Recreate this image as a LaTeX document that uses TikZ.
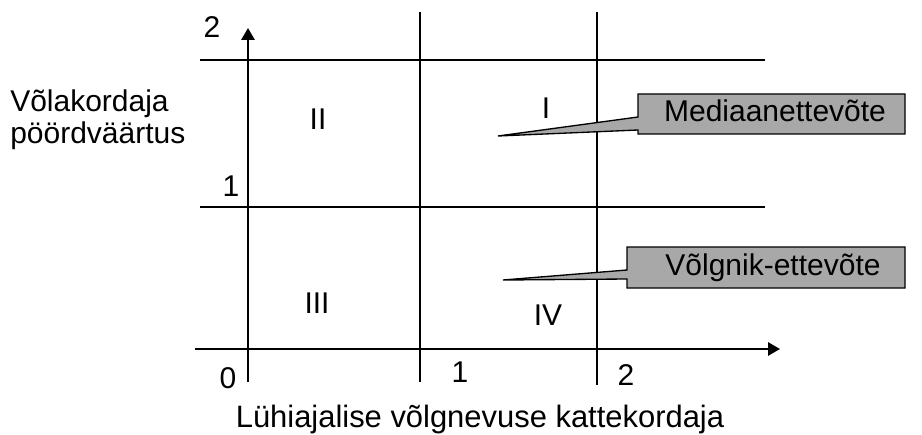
\documentclass[tikz,border=0pt]{standalone}
\usepackage{fontspec}
\setmainfont{Liberation Sans}
\usetikzlibrary{arrows.meta}
\begin{document}
\begin{tikzpicture}[x=0.75pt,y=-0.75pt,
  lbl/.style={font=\fontsize{22.5}{23}\selectfont, inner sep=0pt, anchor=base},
  axis/.style={line width=1.5pt, -{Triangle[length=9pt,width=10pt]}},
  grid/.style={line width=0.8pt},
  callout/.style={draw=black, line width=1pt, fill=black!34, line join=miter}]
\useasboundingbox (0,0) rectangle (922,435);

% grid lines
\draw[grid] (200,60) -- (765,60);
\draw[grid] (200,207) -- (765,207);
\draw[grid] (420,12) -- (420,382);
\draw[grid] (597,12) -- (597,385);

% axes
\coordinate (ybot) at (248,382);
\coordinate (ytop) at (248,28);
\coordinate (xleft) at (195,349);
\coordinate (xright) at (780,349);
\draw[axis] (ybot) -- (ytop);
\draw[axis] (xleft) -- (xright);

% tick labels
\node[lbl] (y2) at (212,38) {2};
\node[lbl] (y1) at (231,196) {1};
\node[lbl] (o) at (228,388) {0};
\node[lbl] (x1) at (460,382) {1};
\node[lbl] (x2) at (626,385) {2};

% quadrant labels
\node[lbl] (qII) at (318,130) {II};
\node[lbl] (qI) at (546,118) {I};
\node[lbl] (qIII) at (317,313) {III};
\node[lbl] (qIV) at (548,325) {IV};

% axis titles
\node[lbl, anchor=base west] (ytitle) at (10,112) {Võlakordaja};
\node[lbl, anchor=base west] (ytitle2) at (10,143) {pöördväärtus};
\node[lbl, font=\fontsize{23.2}{24}\selectfont] (xtitle) at (480,427)
  {Lühiajalise võlgnevuse kattekordaja};

% callouts
\coordinate (tipA) at (498,136);
\coordinate (tipB) at (503,280);
\draw[callout] (638,94) -- (905,94) -- (905,134) -- (638,134) -- (638,130)
  -- (tipA) -- (638,117) -- cycle;
\draw[callout] (627,247) -- (905,247) -- (905,288) -- (627,288) -- (627,279)
  -- (tipB) -- (627,270) -- cycle;
\node[lbl] (cA) at (775,122) {Mediaanettevõte};
\node[lbl] (cB) at (773,275) {Võlgnik-ettevõte};
\end{tikzpicture}
\end{document}
